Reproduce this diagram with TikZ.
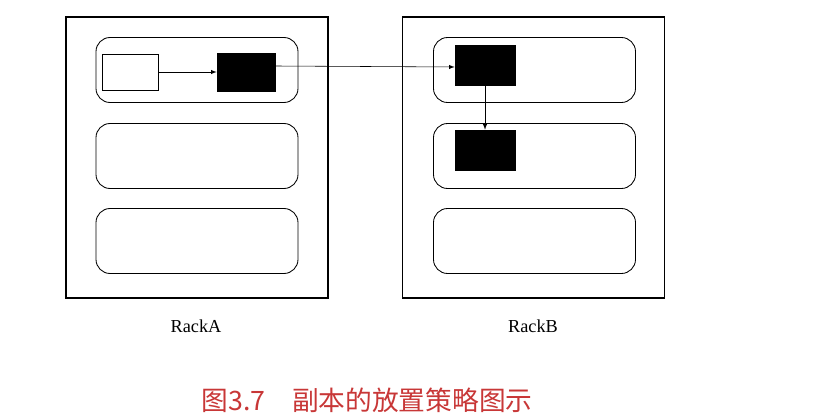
\documentclass[tikz,border=0pt]{standalone}
\usepackage{fontspec}
\setmainfont{Liberation Serif}
\newfontfamily\cjk{Noto Sans CJK SC}
\usetikzlibrary{positioning,arrows}
\definecolor{capred}{RGB}{200,55,55}

\begin{document}
\begin{tikzpicture}[
    x=0.025cm, y=-0.025cm,
    rack/.style={draw, thick, minimum width=262*0.025cm, minimum height=281*0.025cm, inner sep=0pt},
    slot/.style={draw, semithick, rounded corners=10pt, minimum width=202*0.025cm, minimum height=65*0.025cm, inner sep=0pt},
    blk/.style={draw, fill=black, minimum width=58*0.025cm, minimum height=38*0.025cm, inner sep=0pt},
    wblk/.style={draw, minimum width=56*0.025cm, minimum height=36*0.025cm, inner sep=0pt},
    arrow/.style={->, >=latex}
]
\useasboundingbox (0,0) rectangle (829,419);

% Racks
\node[rack] (ra) at (197,157.5) {};
\node[rack] (rb) at (533.5,157.5) {};
\node[font=\fontsize{13}{15}\selectfont] (la) at (196,326) {RackA};
\node[font=\fontsize{13}{15}\selectfont] (lb) at (533,326) {RackB};

% Slots
\foreach \y [count=\i] in {70,156,241} {
  \node[slot] (a\i) at (197,\y) {};
  \node[slot] (b\i) at (534.5,\y) {};
}

% Blocks
\node[wblk] (w) at (130,72) {};
\node[blk] (ba) at (246,72) {};
\node[blk, minimum width=60*0.025cm, minimum height=40*0.025cm] (bb1) at (485,65) {};
\node[blk, minimum width=60*0.025cm, minimum height=40*0.025cm] (bb2) at (485,150) {};

% Arrows
\draw[arrow] (w) -- (ba);
\draw[arrow] (ba.east |- 0,66) -- (bb1.west |- 0,67);
\draw[arrow] (bb1) -- (bb2);

% Caption
\node[text=capred, font=\cjk\fontsize{19}{21}\selectfont] (cap) at (367,400) {图3.7\quad 副本的放置策略图示};
\end{tikzpicture}
\end{document}
